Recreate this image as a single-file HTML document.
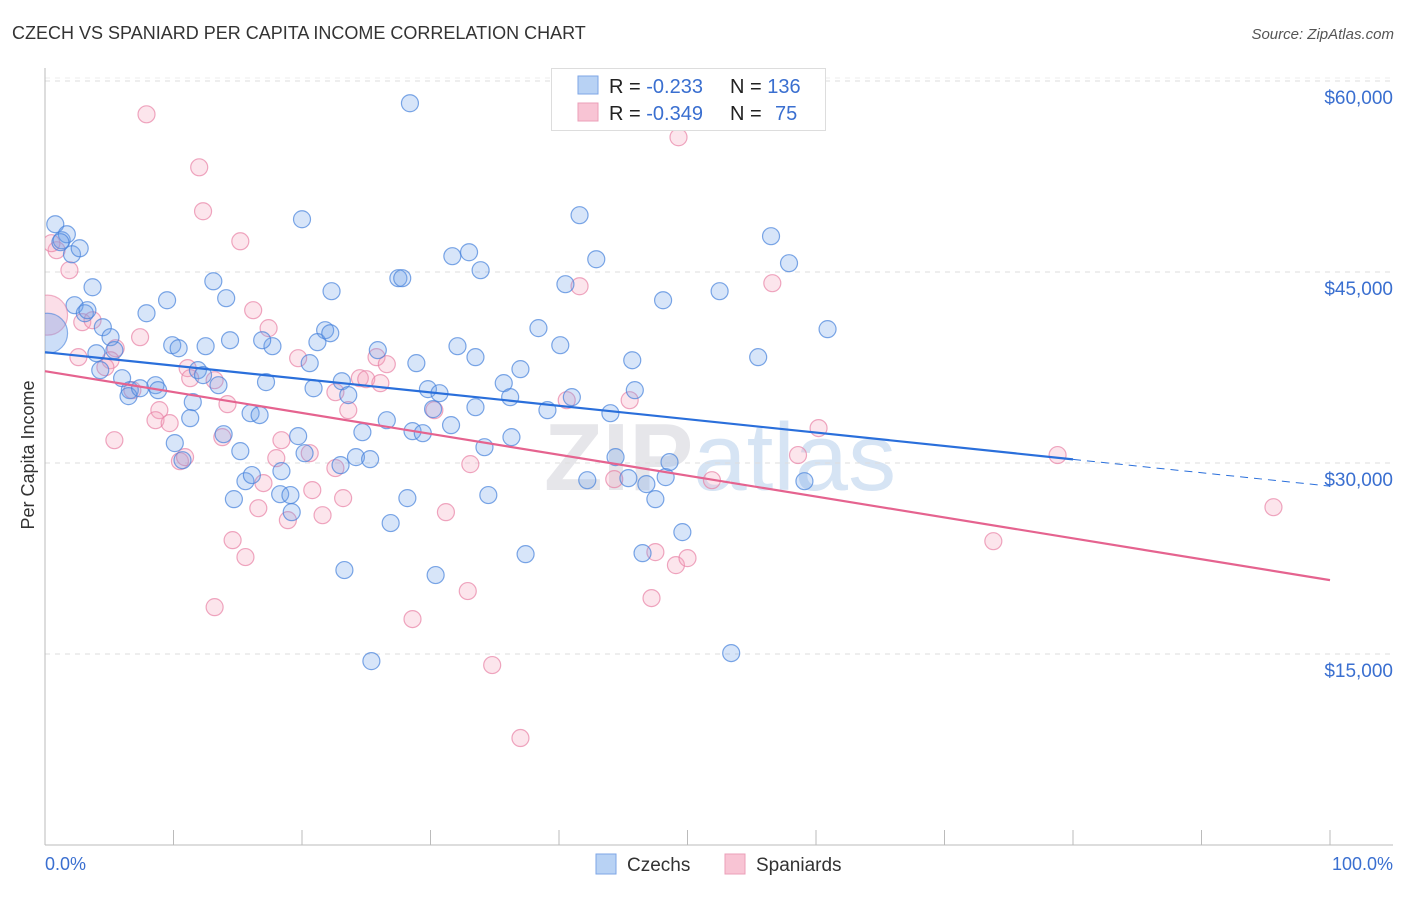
<!DOCTYPE html>
<html><head><meta charset="utf-8"><style>
body{margin:0;background:#fff;font-family:"Liberation Sans",sans-serif;}
svg text{font-family:"Liberation Sans",sans-serif;}
</style></head><body>
<svg id="chart" width="1406" height="892" viewBox="0 0 1406 892">
<defs><clipPath id="plotclip"><rect x="45" y="60" width="1360" height="785"/></clipPath></defs>
<text x="12" y="39" font-size="18" fill="#333">CZECH VS SPANIARD PER CAPITA INCOME CORRELATION CHART</text>
<text x="1394" y="39" font-size="15" fill="#555" font-style="italic" text-anchor="end">Source: ZipAtlas.com</text>
<text x="720" y="490" font-size="96" font-weight="bold" fill="#e6e6ea" text-anchor="middle">ZIP<tspan font-weight="normal" fill="#d6e4f4">atlas</tspan></text>
<g id="grid"></g>
<g id="axes"></g>
<g id="points" clip-path="url(#plotclip)"></g>
<g id="trends"></g>
<text transform="translate(34,455) rotate(-90)" font-size="18" fill="#333" text-anchor="middle">Per Capita Income</text>
<text x="45" y="870" font-size="18" fill="#3a6fd0">0.0%</text>
<text x="1393" y="870" font-size="18" fill="#3a6fd0" text-anchor="end">100.0%</text>
<g>
<rect x="551.5" y="68.5" width="274" height="62" fill="#fff" stroke="#ddd"/>
<rect x="578" y="76" width="20" height="18" fill="#b8d2f4" stroke="#7ea6e6"/>
<rect x="578" y="103" width="20" height="18" fill="#f8c4d4" stroke="#eb9fb8"/>
<text x="609" y="93" font-size="20" fill="#222">R = <tspan fill="#3a6fd0">-0.233</tspan><tspan x="730">N = </tspan><tspan fill="#3a6fd0">136</tspan></text>
<text x="609" y="120" font-size="20" fill="#222">R = <tspan fill="#3a6fd0">-0.349</tspan><tspan x="730">N = </tspan><tspan fill="#3a6fd0" x="775">75</tspan></text>
</g>
<g>
<rect x="596" y="854" width="20" height="20" fill="#b8d2f4" stroke="#7ea6e6"/>
<text x="627" y="871" font-size="19" fill="#333">Czechs</text>
<rect x="725" y="854" width="20" height="20" fill="#f8c4d4" stroke="#eb9fb8"/>
<text x="756" y="871" font-size="19" fill="#333">Spaniards</text>
</g>
</svg>
<script>
const yTicks=[15000,30000,45000,60000];
const yTickLabels=["$15,000","$30,000","$45,000","$60,000"];
const czechX=[0.8,1.3,1.7,2.1,2.7,1.2,3.7,2.3,3.1,3.3,4.5,5.1,4.0,5.4,4.3,6.0,6.6,6.5,7.4,8.6,8.8,7.9,9.5,9.9,10.4,11.9,12.5,12.3,13.1,14.1,14.4,13.5,11.5,11.3,10.1,10.7,13.9,15.2,16.0,16.7,14.7,15.6,16.1,18.3,19.1,18.4,19.2,17.7,16.9,17.2,20.0,20.6,19.7,20.2,22.3,21.8,21.2,22.2,20.9,23.1,23.6,23.0,24.2,25.3,24.7,23.3,25.4,25.9,26.6,26.9,27.5,27.8,28.4,28.2,28.6,28.9,29.4,29.8,30.2,30.7,31.6,31.7,33.0,33.9,32.1,33.5,33.5,34.2,34.5,35.7,36.2,36.3,37.0,37.4,38.4,39.1,40.1,40.5,41.6,42.9,41.0,44.0,44.4,42.2,45.7,45.9,45.4,46.5,46.8,47.5,48.1,48.3,48.6,49.6,52.5,53.4,55.5,56.5,57.9,59.1,60.9,30.4];
const czechY=[48750,47490,47960,46390,46860,47340,43800,42390,41760,42000,40660,39880,38620,38860,37290,36660,35720,35250,35870,36110,35720,41760,42780,39250,39010,37290,39170,36900,44270,42940,39640,36110,34780,33520,31560,30220,32260,30930,33910,33760,27160,28570,29050,27550,27480,29360,26140,39170,39640,36350,49140,37840,32110,30770,43490,40430,39490,40190,35870,36420,35330,29830,30460,30300,32420,21590,14440,38860,33360,25280,44510,44510,58250,27240,32500,37840,32340,35800,34230,35480,32970,46240,46550,45140,39170,38310,34380,31240,27480,36270,35170,32030,37370,22840,40590,34150,39250,44040,49460,46000,35170,33910,30460,28650,38070,35720,28810,22920,28340,27160,42780,28890,30070,24570,43490,15070,38310,47810,45690,28570,40510,21200];
const spanX=[7.9,12.0,12.3,15.2,0.9,1.9,16.2,17.4,19.7,2.9,3.7,5.5,7.4,5.1,4.7,2.6,6.8,8.9,8.6,9.7,11.1,11.3,13.2,14.2,13.8,10.5,10.9,5.4,14.6,15.6,16.6,17.0,18.0,18.4,18.9,20.6,20.8,21.6,22.6,23.2,23.6,22.6,24.5,25.0,25.8,26.1,26.6,28.6,30.3,31.2,33.1,32.9,34.8,37.0,40.6,41.6,44.3,45.5,47.2,47.5,49.1,50.0,51.9,56.6,58.6,60.2,73.8,78.8,95.6,49.3,13.2,0.5];
const spanY=[57380,53220,49770,47410,46710,45140,42000,40590,38230,41060,41210,39010,39880,38070,37520,38310,35720,34150,33360,33130,37450,36660,36500,34620,32030,30140,30460,31790,23940,22610,26450,28420,30380,31790,25510,30770,27870,25900,29600,27240,34150,35560,36660,36580,38310,36270,37760,17740,34150,26140,29910,19940,14130,8400,34930,43880,28730,34930,19390,23000,21980,22530,28650,44120,30620,32740,23860,30620,26530,55580,18680,47260];
const bigX=[0.2,0.2];
const bigY=[40190,41610];
const czechTrend=[38700,28180];
const spanTrend=[37210,20800];
const NS="http://www.w3.org/2000/svg";
const xs=v=>45+v*12.85;
const ys=v=>845-v/78.53;
function mk(tag,attrs,parent){const e=document.createElementNS(NS,tag);for(const k in attrs)e.setAttribute(k,attrs[k]);parent.appendChild(e);return e;}
const grid=document.getElementById('grid'),axes=document.getElementById('axes'),pts=document.getElementById('points'),tr=document.getElementById('trends');
yTicks.forEach((t,i)=>{
 const l=mk('line',{x1:45,x2:1393,y1:ys(t),y2:ys(t),stroke:'#ddd','stroke-dasharray':'5,5'},grid);
 
 
 const tx=mk('text',{x:1393,y:ys(t)+23,'font-size':19,fill:'#3a6fd0','text-anchor':'end'},axes);
 tx.textContent=yTickLabels[i];
 
 
});
const topl=mk('line',{x1:45,x2:1393,y1:78,y2:78,stroke:'#eee','stroke-dasharray':'5,5'},grid);


const ya=mk('line',{x1:45,x2:45,y1:68,y2:845,stroke:'#bbb'},axes);


const xa=mk('line',{x1:45,x2:1393,y1:845,y2:845,stroke:'#bbb'},axes);


for(let i=1;i<=10;i++){
 const t=mk('line',{x1:xs(i*10),x2:xs(i*10),y1:830,y2:845,stroke:'#bbb'},axes);
 
 
}
function dot(x,y,r,fill,stroke,name){
 const c=mk('circle',{cx:xs(x),cy:ys(y),r:r,fill:fill,stroke:stroke,'stroke-width':1.2},pts);
 
 
}
spanX.forEach((x,i)=>dot(x,spanY[i],8.5,'rgba(244,160,188,0.28)','rgba(232,130,165,0.7)','spaniard-point'));
czechX.forEach((x,i)=>dot(x,czechY[i],8.5,'rgba(110,160,235,0.28)','rgba(70,130,220,0.7)','czech-point'));
dot(bigX[1],bigY[1],20,'rgba(244,160,188,0.35)','rgba(232,130,165,0.6)','spaniard-point-large');
dot(bigX[0],bigY[0],20,'rgba(110,160,235,0.35)','rgba(70,130,220,0.6)','czech-point-large');
const bAt=p=>czechTrend[0]+(czechTrend[1]-czechTrend[0])*p/100;
const pAt=p=>spanTrend[0]+(spanTrend[1]-spanTrend[0])*p/100;
const l1=mk('line',{x1:xs(0),y1:ys(bAt(0)),x2:xs(80),y2:ys(bAt(80)),stroke:'#2a6fdb','stroke-width':2.2},tr);


const l2=mk('line',{x1:xs(80),y1:ys(bAt(80)),x2:xs(100),y2:ys(bAt(100)),stroke:'#2a6fdb','stroke-width':1,'stroke-dasharray':'8,6'},tr);


const l3=mk('line',{x1:xs(0),y1:ys(pAt(0)),x2:xs(100),y2:ys(pAt(100)),stroke:'#e5638f','stroke-width':2.2},tr);


</script>
</body></html>
